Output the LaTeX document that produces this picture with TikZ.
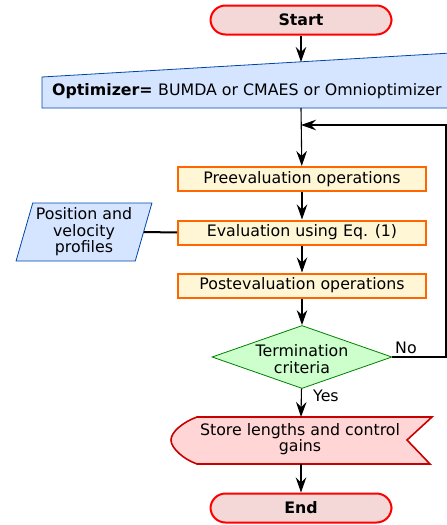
\documentclass[tikz,border=0pt]{standalone}
\usepackage{fontspec}
\setmainfont{DejaVu Sans}
\usetikzlibrary{arrows.meta,shapes.geometric}
\definecolor{termred}{HTML}{FF0000}
\definecolor{termfill}{HTML}{F4D7D7}
\definecolor{optblue}{HTML}{0044AA}
\definecolor{optfill}{HTML}{D5E5FF}
\definecolor{procorange}{HTML}{FF6600}
\definecolor{procfill}{HTML}{FFF6D5}
\definecolor{decgreen}{HTML}{008000}
\definecolor{decfill}{HTML}{CCFFCC}
\definecolor{storered}{HTML}{C80000}
\definecolor{storefill}{HTML}{FFD5D5}

\begin{document}
\begin{tikzpicture}[x=1pt, y=-1pt, font=\fontsize{15.8}{16.5}\selectfont,
    terminal/.style={draw=termred, fill=termfill, line width=2pt, rounded corners=15pt,
        minimum width=181pt, minimum height=29pt, inner sep=0pt},
    process/.style={draw=procorange, fill=procfill, line width=2pt,
        minimum width=248pt, minimum height=24pt, inner sep=0pt},
    decision/.style={diamond, draw=decgreen, fill=decfill, line width=0.8pt,
        minimum width=180pt, minimum height=63pt, inner sep=0pt},
    datain/.style={trapezium, trapezium left angle=72, trapezium right angle=108,
        trapezium stretches=true, draw=optblue, fill=optfill, line width=0.8pt,
        minimum width=136pt, minimum height=58pt, inner sep=0pt, align=center},
    flow/.style={-{Stealth[length=15pt, width=10.5pt, inset=5pt]}, line width=1.1pt},
    label/.style={inner sep=0pt, align=center}]

    \useasboundingbox (0,0) rectangle (447,525);
    \clip (0,0) rectangle (447,525);

    % Start
    \node[terminal] (start) at (301,20) {\bfseries Start};

    % Optimizer (manual input)
    \fill[optfill] (42,108) -- (42,77) -- (560,46.6) -- (560,108) -- cycle;
    \draw[optblue, line width=0.8pt] (42,108) -- (42,77) -- (560,46.6) -- (560,108) -- cycle;
    \node[label, anchor=west] (opt) at (52,91) {\bfseries Optimizer= \mdseries BUMDA or CMAES or Omnioptimizer};
    \coordinate (optTop) at (301,62);
    \coordinate (optBot) at (301,108);

    % Operations
    \node[process] (pre) at (302,179) {Preevaluation operations};
    \node[process] (eval) at (302,232.5) {Evaluation using Eq. (1)};
    \node[process] (post) at (302,285.5) {Postevaluation operations};

    % Profiles
    \node[datain] (prof) at (84,232) {Position and\\velocity\\profiles};

    % Termination criteria
    \node[decision] (term) at (302,357) {};
    \node[label] (termtxt) at (302,359) {Termination\\criteria};

    % Store (display)
    \fill[storefill] (197,417) -- (432,417) -- (407,440) -- (430,464) -- (197,464)
        .. controls (183,459) and (171,448) .. (171,440)
        .. controls (171,432) and (183,422) .. cycle;
    \draw[storered, line width=1.6pt] (197,417) -- (432,417) -- (407,440) -- (430,464) -- (197,464)
        .. controls (183,459) and (171,448) .. (171,440)
        .. controls (171,432) and (183,422) .. cycle;
    \node[label] (store) at (300,439) {Store lengths and control\\gains};
    \coordinate (storeTop) at (301,417);
    \coordinate (storeBot) at (301,464);

    % End
    \node[terminal] (end) at (301,508) {\bfseries End};

    % Connectors
    \draw[flow] (start) -- (optTop);
    \draw[flow] (optBot) -- (pre);
    \draw[flow] (pre) -- (eval);
    \draw[flow] (eval) -- (post);
    \draw[flow] (post) -- (term);
    \draw[flow] (term) -- (storeTop);
    \draw[flow] (storeBot) -- (end);
    \draw[line width=2pt] (prof.east) -- (eval.west);

    % Loop back
    \coordinate (loopIn) at (301,125);
    \coordinate (loopOut) at (446,357);
    \draw[flow] (term.east) -- (loopOut) |- (loopIn);

    \node[label, anchor=south west] (no) at (395,354) {No};
    \node[label, anchor=west] (yes) at (313,396) {Yes};

\end{tikzpicture}
\end{document}
